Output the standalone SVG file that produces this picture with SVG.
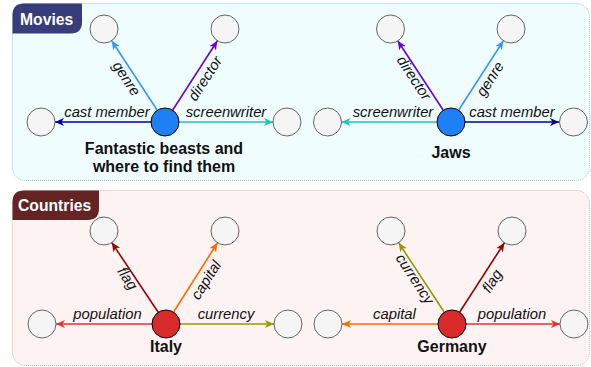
<svg xmlns="http://www.w3.org/2000/svg" width="591" height="367" viewBox="0 0 591 367">
<style>
.panel{stroke-width:1;stroke-dasharray:1 1}
.grey{fill:#f5f5f5;stroke:#666;stroke-width:1}
.blue{fill:#1f80f5;stroke:#000;stroke-width:1}
.red{fill:#d92b2b;stroke:#000;stroke-width:1}
.tab{font-family:"Liberation Sans",Arial,sans-serif;font-weight:bold;font-size:15.7px;fill:#fff}
.name{font-family:"Liberation Sans",Arial,sans-serif;font-weight:bold;font-size:16px;fill:#111;text-anchor:middle}
.lbl{font-family:"Liberation Sans",Arial,sans-serif;font-style:italic;font-size:14.8px;fill:#111;text-anchor:middle}
.e{stroke-width:1.6;fill:none}
</style>
<defs>
<marker id="m-genre" markerUnits="userSpaceOnUse" markerWidth="10" markerHeight="9" refX="9" refY="4" orient="auto"><path d="M0,0 L9,4 L0,8 L2.5,4z" fill="#3399ff"/></marker>
<marker id="m-director" markerUnits="userSpaceOnUse" markerWidth="10" markerHeight="9" refX="9" refY="4" orient="auto"><path d="M0,0 L9,4 L0,8 L2.5,4z" fill="#7000d8"/></marker>
<marker id="m-cast" markerUnits="userSpaceOnUse" markerWidth="10" markerHeight="9" refX="9" refY="4" orient="auto"><path d="M0,0 L9,4 L0,8 L2.5,4z" fill="#000099"/></marker>
<marker id="m-screen" markerUnits="userSpaceOnUse" markerWidth="10" markerHeight="9" refX="9" refY="4" orient="auto"><path d="M0,0 L9,4 L0,8 L2.5,4z" fill="#20c4b0"/></marker>
<marker id="m-flag" markerUnits="userSpaceOnUse" markerWidth="10" markerHeight="9" refX="9" refY="4" orient="auto"><path d="M0,0 L9,4 L0,8 L2.5,4z" fill="#990000"/></marker>
<marker id="m-capital" markerUnits="userSpaceOnUse" markerWidth="10" markerHeight="9" refX="9" refY="4" orient="auto"><path d="M0,0 L9,4 L0,8 L2.5,4z" fill="#ff6a00"/></marker>
<marker id="m-pop" markerUnits="userSpaceOnUse" markerWidth="10" markerHeight="9" refX="9" refY="4" orient="auto"><path d="M0,0 L9,4 L0,8 L2.5,4z" fill="#e03333"/></marker>
<marker id="m-cur" markerUnits="userSpaceOnUse" markerWidth="10" markerHeight="9" refX="9" refY="4" orient="auto"><path d="M0,0 L9,4 L0,8 L2.5,4z" fill="#999900"/></marker>
</defs>

<g id="panel-movies">
<rect class="panel" x="12.5" y="3.5" width="577" height="177" rx="13" fill="#f0fdfe" stroke="#9cc6de"/>
<path d="M12.5,33.5 L12.5,15 Q12.5,3.5 24,3.5 L82,3.5 L82,22 Q82,33.5 70.5,33.5 Z" fill="#363d7a"/>
<text class="tab" x="20" y="25">Movies</text>
</g>
<g id="panel-countries">
<rect class="panel" x="12.5" y="190.5" width="577" height="175" rx="13" fill="#fdf3f3" stroke="#dcb4b4"/>
<path d="M12.5,220 L12.5,202 Q12.5,190.5 24,190.5 L99,190.5 L99,208.5 Q99,220 87.5,220 Z" fill="#652424"/>
<text class="tab" x="18" y="211">Countries</text>
</g>

<g id="connectors">
<line class="e" x1="165" y1="122" x2="111.7" y2="40.8" stroke="#3399ff" marker-end="url(#m-genre)"/>
<line class="e" x1="165" y1="122" x2="217.4" y2="40.8" stroke="#7000d8" marker-end="url(#m-director)"/>
<line class="e" x1="165" y1="122" x2="55" y2="122" stroke="#000099" marker-end="url(#m-cast)"/>
<line class="e" x1="165" y1="122" x2="273" y2="122" stroke="#20c4b0" marker-end="url(#m-screen)"/>

<line class="e" x1="451" y1="122" x2="397.7" y2="40.8" stroke="#7000d8" marker-end="url(#m-director)"/>
<line class="e" x1="451" y1="122" x2="503.4" y2="40.8" stroke="#3399ff" marker-end="url(#m-genre)"/>
<line class="e" x1="451" y1="122" x2="341.5" y2="122" stroke="#20c4b0" marker-end="url(#m-screen)"/>
<line class="e" x1="451" y1="122" x2="559" y2="122" stroke="#000099" marker-end="url(#m-cast)"/>

<line class="e" x1="166" y1="324" x2="111.8" y2="242.6" stroke="#990000" marker-end="url(#m-flag)"/>
<line class="e" x1="166" y1="324" x2="217.5" y2="242.8" stroke="#ff6a00" marker-end="url(#m-capital)"/>
<line class="e" x1="166" y1="324" x2="56" y2="324" stroke="#e03333" marker-end="url(#m-pop)"/>
<line class="e" x1="166" y1="324" x2="274" y2="324" stroke="#999900" marker-end="url(#m-cur)"/>

<line class="e" x1="452" y1="324" x2="398.7" y2="242.8" stroke="#999900" marker-end="url(#m-cur)"/>
<line class="e" x1="452" y1="324" x2="504.4" y2="242.8" stroke="#990000" marker-end="url(#m-flag)"/>
<line class="e" x1="452" y1="324" x2="342" y2="324" stroke="#ff6a00" marker-end="url(#m-capital)"/>
<line class="e" x1="452" y1="324" x2="560" y2="324" stroke="#e03333" marker-end="url(#m-pop)"/>

<text class="lbl" x="107" y="117">cast member</text>
<text class="lbl" x="226" y="117">screenwriter</text>
<text class="lbl" transform="translate(126.5,78.5) rotate(56.7)" y="5">genre</text>
<text class="lbl" transform="translate(205,78.5) rotate(-57.2)" y="5">director</text>
<text class="lbl" x="393" y="117">screenwriter</text>
<text class="lbl" x="512" y="117">cast member</text>
<text class="lbl" transform="translate(414,78) rotate(56.7)" y="5">director</text>
<text class="lbl" transform="translate(490,79) rotate(-57.2)" y="5">genre</text>

<text class="lbl" x="107.5" y="319">population</text>
<text class="lbl" x="226" y="319">currency</text>
<text class="lbl" transform="translate(127.5,278.5) rotate(56.3)" y="5">flag</text>
<text class="lbl" transform="translate(206,280) rotate(-57.6)" y="5">capital</text>
<text class="lbl" x="394.5" y="319">capital</text>
<text class="lbl" x="512" y="319">population</text>
<text class="lbl" transform="translate(415,279) rotate(56.7)" y="5">currency</text>
<text class="lbl" transform="translate(492,281) rotate(-57.2)" y="5">flag</text>
</g>

<g id="node-fantastic"><circle class="blue" cx="165" cy="122" r="14"/><text class="name" x="164" y="154">Fantastic beasts and</text><text class="name" x="164" y="172">where to find them</text></g>
<g id="node-m1-genre"><circle class="grey" cx="104" cy="29" r="14"/></g>
<g id="node-m1-director"><circle class="grey" cx="225" cy="29" r="14"/></g>
<g id="node-m1-cast"><circle class="grey" cx="41" cy="122" r="14"/></g>
<g id="node-m1-screen"><circle class="grey" cx="287" cy="122" r="14"/></g>

<g id="node-jaws"><circle class="blue" cx="451" cy="122" r="14"/><text class="name" x="451" y="158">Jaws</text></g>
<g id="node-m2-director"><circle class="grey" cx="390.5" cy="29" r="14"/></g>
<g id="node-m2-genre"><circle class="grey" cx="511" cy="29" r="14"/></g>
<g id="node-m2-screen"><circle class="grey" cx="327.5" cy="122" r="14"/></g>
<g id="node-m2-cast"><circle class="grey" cx="573.5" cy="122" r="14"/></g>

<g id="node-italy"><circle class="red" cx="166" cy="324" r="14"/><text class="name" x="166" y="352">Italy</text></g>
<g id="node-c1-flag"><circle class="grey" cx="104" cy="231" r="14"/></g>
<g id="node-c1-capital"><circle class="grey" cx="225" cy="231" r="14"/></g>
<g id="node-c1-pop"><circle class="grey" cx="42" cy="324" r="14"/></g>
<g id="node-c1-cur"><circle class="grey" cx="288" cy="324" r="14"/></g>

<g id="node-germany"><circle class="red" cx="452" cy="324" r="14"/><text class="name" x="452" y="352">Germany</text></g>
<g id="node-c2-cur"><circle class="grey" cx="391" cy="231" r="14"/></g>
<g id="node-c2-flag"><circle class="grey" cx="512" cy="231" r="14"/></g>
<g id="node-c2-capital"><circle class="grey" cx="328" cy="324" r="14"/></g>
<g id="node-c2-pop"><circle class="grey" cx="574" cy="324" r="14"/></g>
</svg>
